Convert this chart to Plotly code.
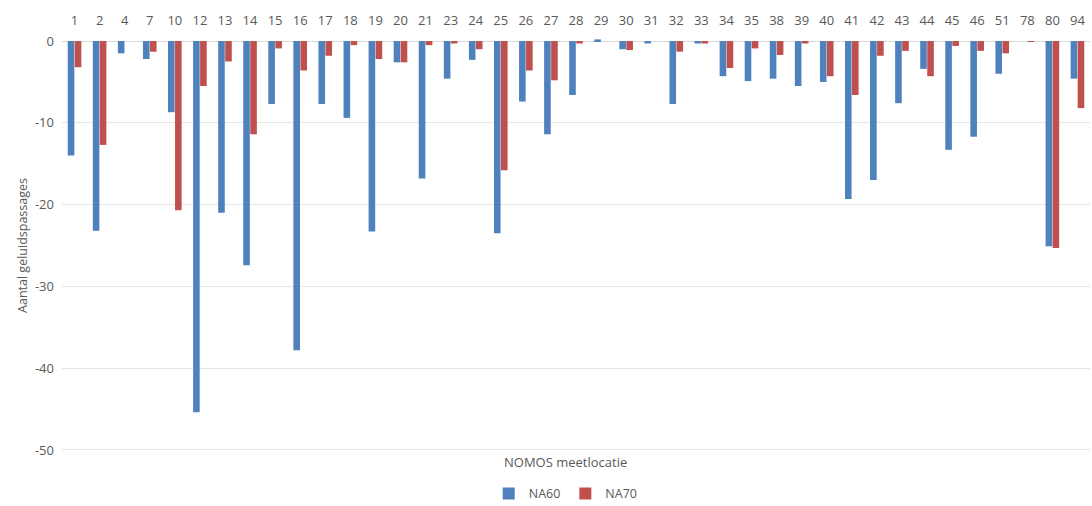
import plotly.graph_objects as go

categories = ["1", "2", "4", "7", "10", "12", "13", "14", "15", "16", "17", "18", "19", "20",
              "21", "23", "24", "25", "26", "27", "28", "29", "30", "31", "32", "33", "34", "35",
              "38", "39", "40", "41", "42", "43", "44", "45", "46", "51", "78", "80", "94"]

na60 = [-14.0, -23.2, -1.5, -2.2, -8.7, -45.4, -21.0, -27.4, -7.7, -37.8, -7.7, -9.4, -23.3, -2.6,
        -16.8, -4.6, -2.3, -23.5, -7.4, -11.4, -6.6, 0.2, -1.0, -0.3, -7.7, -0.3, -4.3, -4.9,
        -4.6, -5.5, -5.0, -19.3, -17.0, -7.6, -3.4, -13.3, -11.7, -4.0, 0.0, -25.1, -4.6]

na70 = [-3.2, -12.7, 0.0, -1.3, -20.7, -5.5, -2.5, -11.4, -0.9, -3.6, -1.8, -0.5, -2.2, -2.6,
        -0.5, -0.3, -1.0, -15.8, -3.6, -4.8, -0.3, 0.0, -1.1, 0.0, -1.3, -0.3, -3.3, -0.9,
        -1.7, -0.3, -4.3, -6.6, -1.8, -1.2, -4.3, -0.6, -1.2, -1.5, -0.1, -25.3, -8.2]

y_ticks = [0, -10, -20, -30, -40, -50]

font_family = "Open Sans, Noto Sans, sans-serif"
grey = "#595959"

fig = go.Figure()
fig.add_trace(go.Bar(x=categories, y=na60, name="NA60", marker_color="#4F81BD",
                     marker_line_width=0))
fig.add_trace(go.Bar(x=categories, y=na70, name="NA70", marker_color="#C0504D",
                     marker_line_width=0))

fig.update_layout(
    width=1092, height=506,
    margin=dict(l=62, r=2, t=39, b=54),
    paper_bgcolor="white", plot_bgcolor="white",
    barmode="group", bargap=0.44, bargroupgap=0.06,
    font=dict(family=font_family, size=12, color=grey),
    showlegend=True,
    legend=dict(orientation="h", x=0.49, xanchor="center",
                yref="container", y=0.024, yanchor="middle",
                font=dict(size=12.5, color=grey), itemwidth=30, traceorder="normal",
                tracegroupgap=0),
    xaxis=dict(side="top", type="category", showgrid=False, showline=False,
               ticks="", tickfont=dict(size=13, color=grey), zeroline=False,
               ticklabelstandoff=10),
    yaxis=dict(range=[-50.25, 0.25], tickvals=y_ticks, ticktext=[str(v) for v in y_ticks],
               showgrid=True, gridcolor="#e6e6e6", gridwidth=1,
               zeroline=True, zerolinecolor="#d9d9d9", zerolinewidth=1,
               showline=False, ticks="", tickfont=dict(size=13, color=grey),
               ticklabelstandoff=7,
               title=dict(text="Aantal geluidspassages", font=dict(size=12.5, color=grey),
                          standoff=4)),
    annotations=[dict(text="NOMOS meetlocatie", xref="paper", yref="paper",
                      x=0.49, y=0.003, xanchor="center", yanchor="top", showarrow=False,
                      font=dict(size=13, color=grey))],
)

fig.write_html("out.html",
               config={"displayModeBar": False},
               post_script="document.body.style.margin='0';document.body.style.overflow='hidden';")
